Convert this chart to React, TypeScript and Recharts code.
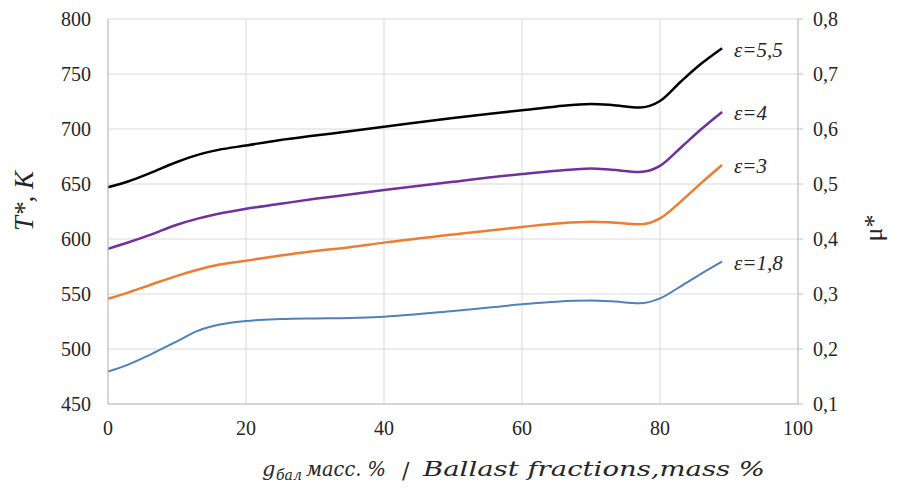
import React from 'react';
import { LineChart, Line, XAxis, YAxis, CartesianGrid, LabelList } from 'recharts';

// ballast fraction, mass %
const X_VALUES = [0, 3, 6, 10, 13, 16, 20, 25, 30, 35, 40, 50, 60, 65, 70, 73, 77, 80, 83, 86, 89];

// T*, K for each compression ratio
const EPS_55 = [647, 652.5, 659.7, 670, 676.5, 681, 685, 690, 694, 698, 702, 710, 717, 720.5, 722.7, 721.8, 719.5, 725.5, 743, 759.5, 773.5];
const EPS_4 = [591, 597, 603.5, 613, 618.5, 623, 627.5, 632, 636.5, 640.5, 644.5, 652, 659, 662, 664.2, 663, 661, 666.5, 683, 700, 715.5];
const EPS_3 = [545.7, 551.5, 558, 566.5, 572, 576.5, 580.3, 585, 589, 592.5, 596.7, 604, 611, 614, 615.7, 615, 613.3, 618.8, 634, 651, 667.3];
const EPS_18 = [479.4, 486, 494.5, 507, 516.5, 522, 525.5, 527.2, 527.8, 528.2, 529.4, 534.5, 540.6, 543, 544, 543.3, 541.5, 546, 557, 568.5, 579.4];

const X_TICKS = [0, 20, 40, 60, 80, 100];
const T_TICKS = [450, 500, 550, 600, 650, 700, 750, 800];
const MU_TICKS = [0.1, 0.2, 0.3, 0.4, 0.5, 0.6, 0.7, 0.8];

const series = [
	{ key: 'e55', name: 'ε=5,5', color: '#000000', width: 2.5, values: EPS_55 },
	{ key: 'e4', name: 'ε=4', color: '#7030A0', width: 2.5, values: EPS_4 },
	{ key: 'e3', name: 'ε=3', color: '#ED7D31', width: 2.5, values: EPS_3 },
	{ key: 'e18', name: 'ε=1,8', color: '#4F81BD', width: 2, values: EPS_18 },
];

const data = X_VALUES.map((x, i) => {
	const row: Record<string, number> = { x };
	series.forEach((s) => {
		row[s.key] = s.values[i];
	});
	return row;
});

const SERIF = 'Liberation Serif';
const tickStyle = { fontFamily: SERIF, fontSize: 20, fill: '#262626' };
const lastIndex = X_VALUES.length - 1;

const endLabel = (text: string) => (props: any) => {
	if (props.index !== lastIndex) return null;
	return (
		<text x={props.x + 12} y={props.y + 1} dy='0.35em' style={{ fontFamily: SERIF, fontStyle: 'italic', fontSize: 21 }} fill='#262626'>
			{text}
		</text>
	);
};

const XTitle = () => (
	<g fill='#262626' style={{ fontFamily: 'DejaVu Serif', fontStyle: 'italic' }}>
		<text x={262} y={476} fontSize={21}>g</text>
		<text x={276} y={480} fontSize={14}>бал</text>
		<text x={306} y={476} fontSize={20} textLength={80} lengthAdjust='spacingAndGlyphs'>масс. %</text>
		<text x={402} y={478} fontSize={22} style={{ fontStyle: 'normal' }}>/</text>
		<text x={423} y={476} fontSize={20} textLength={342} lengthAdjust='spacingAndGlyphs'>Ballast fractions,mass %</text>
	</g>
);

const LeftTitle = () => (
	<text x={33} y={201} transform='rotate(-90 33 201)' textAnchor='middle' style={{ fontFamily: SERIF, fontStyle: 'italic', fontSize: 27 }} fill='#262626'>
		T*, K
	</text>
);

const RightTitle = () => (
	<text x={882} y={228} transform='rotate(-90 882 228)' textAnchor='middle' style={{ fontFamily: SERIF, fontSize: 26 }} fill='#262626'>
		μ*
	</text>
);

export default function App() {
	return (
		<div style={{ position: 'absolute', left: 0, top: 0, width: 898, height: 491, background: '#ffffff', fontFamily: SERIF }}>
			<LineChart width={898} height={491} data={data} margin={{ top: 19, right: 0, left: 0, bottom: 0 }} style={{ fontFamily: SERIF }}>
				<CartesianGrid yAxisId='left' stroke='#D9D9D9' strokeWidth={1} />
				<XAxis
					dataKey='x'
					type='number'
					domain={[0, 100]}
					ticks={X_TICKS}
					height={87}
					tick={tickStyle}
					tickLine={false}
					tickSize={0}
					tickMargin={17}
					axisLine={{ stroke: '#BFBFBF' }}
					label={{ content: () => <XTitle /> }}
				/>
				<YAxis
					yAxisId='left'
					orientation='left'
					width={108}
					domain={[450, 800]}
					ticks={T_TICKS}
					tick={tickStyle}
					tickLine={false}
					tickSize={0}
					tickMargin={17}
					axisLine={{ stroke: '#BFBFBF' }}
					label={{ content: () => <LeftTitle /> }}
				/>
				<YAxis
					yAxisId='right'
					orientation='right'
					width={100}
					type='number'
					domain={[0.1, 0.8]}
					allowDataOverflow
					ticks={MU_TICKS}
					tick={tickStyle}
					tickLine={{ stroke: '#BFBFBF' }}
					tickSize={5}
					tickMargin={10}
					axisLine={{ stroke: '#BFBFBF' }}
					tickFormatter={(v: number) => v.toFixed(1).replace('.', ',')}
					label={{ content: () => <RightTitle /> }}
				/>
				{series.map((s) => (
					<Line
						key={s.key}
						yAxisId='left'
						type='monotone'
						dataKey={s.key}
						stroke={s.color}
						strokeWidth={s.width}
						dot={false}
						activeDot={false}
						isAnimationActive={false}
					>
						<LabelList dataKey={s.key} content={endLabel(s.name)} />
					</Line>
				))}
			</LineChart>
		</div>
	);
}
